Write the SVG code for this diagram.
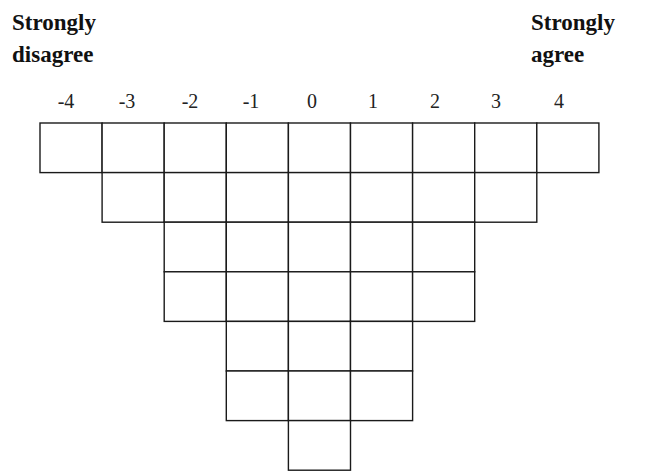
<svg xmlns="http://www.w3.org/2000/svg" width="648" height="471" viewBox="0 0 648 471">
<style>
.lbl{font-family:"Liberation Serif","Times New Roman",serif;font-weight:bold;font-size:23px;fill:#111}
.num{font-family:"Liberation Serif","Times New Roman",serif;font-size:20px;fill:#222;text-anchor:middle}
.cell{fill:#fff;stroke:#1a1a1a;stroke-width:1.4}
</style>
<rect width="648" height="471" fill="#fff"/>
<g id="label-disagree">
<text class="lbl" x="12" y="30">Strongly</text>
<text class="lbl" x="12" y="62">disagree</text>
</g>
<g id="label-agree">
<text class="lbl" x="531" y="30">Strongly</text>
<text class="lbl" x="531" y="62">agree</text>
</g>
<g id="scale">
<text class="num" x="66" y="108">-4</text>
<text class="num" x="127" y="108">-3</text>
<text class="num" x="190" y="108">-2</text>
<text class="num" x="251" y="108">-1</text>
<text class="num" x="312" y="108">0</text>
<text class="num" x="373" y="108">1</text>
<text class="num" x="435" y="108">2</text>
<text class="num" x="496" y="108">3</text>
<text class="num" x="559" y="108">4</text>
</g>
<g id="grid">
<g id="row1">
<rect class="cell" x="40" y="123" width="62.1" height="49.6"/>
<rect class="cell" x="102.1" y="123" width="62.1" height="49.6"/>
<rect class="cell" x="164.2" y="123" width="62.1" height="49.6"/>
<rect class="cell" x="226.3" y="123" width="62.1" height="49.6"/>
<rect class="cell" x="288.4" y="123" width="62.1" height="49.6"/>
<rect class="cell" x="350.5" y="123" width="62.1" height="49.6"/>
<rect class="cell" x="412.6" y="123" width="62.1" height="49.6"/>
<rect class="cell" x="474.7" y="123" width="62.1" height="49.6"/>
<rect class="cell" x="536.8" y="123" width="62.1" height="49.6"/>
</g>
<g id="row2">
<rect class="cell" x="102.1" y="172.6" width="62.1" height="49.6"/>
<rect class="cell" x="164.2" y="172.6" width="62.1" height="49.6"/>
<rect class="cell" x="226.3" y="172.6" width="62.1" height="49.6"/>
<rect class="cell" x="288.4" y="172.6" width="62.1" height="49.6"/>
<rect class="cell" x="350.5" y="172.6" width="62.1" height="49.6"/>
<rect class="cell" x="412.6" y="172.6" width="62.1" height="49.6"/>
<rect class="cell" x="474.7" y="172.6" width="62.1" height="49.6"/>
</g>
<g id="row3">
<rect class="cell" x="164.2" y="222.2" width="62.1" height="49.6"/>
<rect class="cell" x="226.3" y="222.2" width="62.1" height="49.6"/>
<rect class="cell" x="288.4" y="222.2" width="62.1" height="49.6"/>
<rect class="cell" x="350.5" y="222.2" width="62.1" height="49.6"/>
<rect class="cell" x="412.6" y="222.2" width="62.1" height="49.6"/>
</g>
<g id="row4">
<rect class="cell" x="164.2" y="271.8" width="62.1" height="49.6"/>
<rect class="cell" x="226.3" y="271.8" width="62.1" height="49.6"/>
<rect class="cell" x="288.4" y="271.8" width="62.1" height="49.6"/>
<rect class="cell" x="350.5" y="271.8" width="62.1" height="49.6"/>
<rect class="cell" x="412.6" y="271.8" width="62.1" height="49.6"/>
</g>
<g id="row5">
<rect class="cell" x="226.3" y="321.4" width="62.1" height="49.6"/>
<rect class="cell" x="288.4" y="321.4" width="62.1" height="49.6"/>
<rect class="cell" x="350.5" y="321.4" width="62.1" height="49.6"/>
</g>
<g id="row6">
<rect class="cell" x="226.3" y="371" width="62.1" height="49.6"/>
<rect class="cell" x="288.4" y="371" width="62.1" height="49.6"/>
<rect class="cell" x="350.5" y="371" width="62.1" height="49.6"/>
</g>
<g id="row7">
<rect class="cell" x="288.4" y="420.6" width="62.1" height="49.6"/>
</g>
</g>
</svg>
